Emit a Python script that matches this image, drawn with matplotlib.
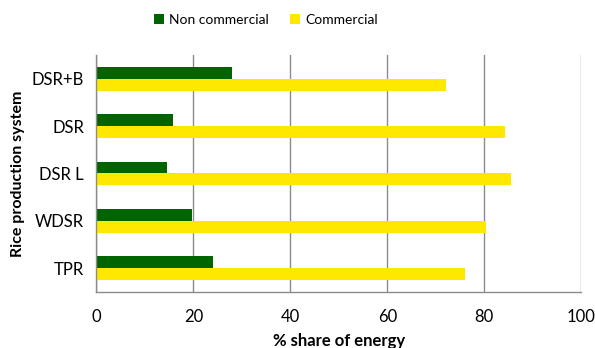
import matplotlib.pyplot as plt
import numpy as np

plt.rcParams['font.family'] = ['Lato', 'DejaVu Sans']

systems = ['DSR+B', 'DSR', 'DSR L', 'WDSR', 'TPR']
non_commercial = [28, 15.7, 14.5, 19.7, 24]
commercial = [72, 84.2, 85.5, 80.3, 76]

fig = plt.figure(figsize=(5.95, 3.48), dpi=100)
ax = fig.add_axes([0.162, 0.161, 0.815, 0.681])

y = np.arange(len(systems))
h = 0.25
ax.barh(y - h / 2, non_commercial, height=h, color='#006400', label='Non commercial')
ax.barh(y + h / 2, commercial, height=h, color='#FFE800', label='Commercial')

ax.set_xlim(0, 100)
ax.set_ylim(len(systems) - 0.5, -0.5)
ax.set_xticks(range(0, 101, 20))
ax.set_yticks(y)
ax.set_yticklabels(systems)
ax.tick_params(axis='both', length=0, labelsize=12, colors='black')
ax.tick_params(axis='x', pad=12)
ax.tick_params(axis='y', pad=9)

# vertical grid lines
ax.grid(axis='x', color='#8c8c8c', linewidth=1)
ax.set_axisbelow(True)
for s in ['top', 'right']:
    ax.spines[s].set_visible(False)
for s in ['left', 'bottom']:
    ax.spines[s].set_color('#8c8c8c')
    ax.spines[s].set_linewidth(1)

ax.set_xlabel('% share of energy', fontsize=12, fontweight='bold', labelpad=6)
ax.set_ylabel('Rice production system', fontsize=11.5, fontweight='bold', labelpad=5)

fig.legend(loc='center', bbox_to_anchor=(266 / 595, 1 - 20 / 348), ncol=2,
           frameon=False, fontsize=10, handlelength=0.7, handleheight=0.7,
           columnspacing=1.5, handletextpad=0.4)

fig.savefig('out.png', dpi=100)
